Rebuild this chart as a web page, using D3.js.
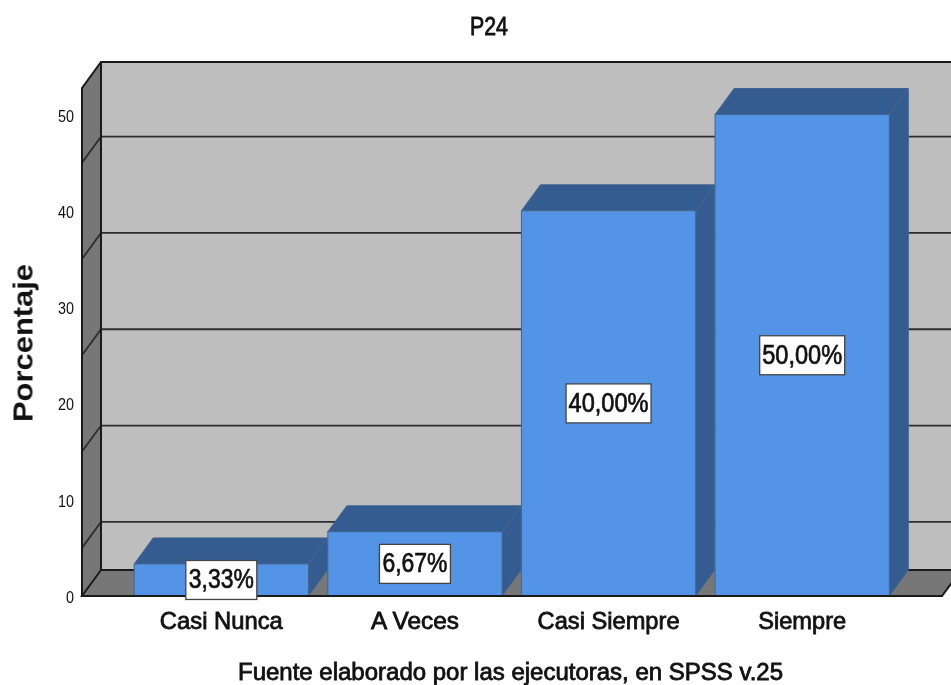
<!DOCTYPE html>
<html><head><meta charset="utf-8">
<script src="https://cdn.jsdelivr.net/npm/d3@7"></script>
<style>html,body{margin:0;padding:0;background:#fff;overflow:hidden}svg{display:block}
text{font-family:"Liberation Sans",Arial,sans-serif;fill:#111;filter:blur(0.35px)}</style></head><body>
<svg id="c" width="951" height="685"></svg>
<script>
const categories=["Casi Nunca","A Veces","Casi Siempre","Siempre"];
const values=[3.33,6.67,40,50];
const valueLabels=["3,33%","6,67%","40,00%","50,00%"];
const yTicks=[0,10,20,30,40,50];
const gridValues=[5,15,25,35,45];
const titleText="P24", yTitle="Porcentaje", footer="Fuente elaborado por las ejecutoras, en SPSS v.25";

const svg=d3.select("#c");
const dx=19,dy=-26,y0=596;
const y=d3.scaleLinear().domain([0,50]).range([y0,114.5]);
const x=d3.scaleBand().domain(categories).range([124.5,899]).paddingInner(0.1).paddingOuter(0.05);
const plotL=82,plotR=942,topV=y.invert(88);
const pts=a=>a.map(p=>p.join(",")).join(" ");
const stroke="#1a1a1a";
const wall="#bebebe",side="#777777",front="#5494e6",dark="#345c90",edge="#44658f";

svg.append("polygon").attr("points",pts([[plotL+dx,y(topV)+dy],[plotR+dx,y(topV)+dy],[plotR+dx,y0+dy],[plotL+dx,y0+dy]])).attr("fill",wall);
svg.append("polygon").attr("points",pts([[plotL,y(topV)],[plotL+dx,y(topV)+dy],[plotL+dx,y0+dy],[plotL,y0]])).attr("fill",side);
svg.append("polygon").attr("points",pts([[plotL,y0],[plotL+dx,y0+dy],[plotR+dx,y0+dy],[plotR,y0]])).attr("fill",side);
const g=svg.append("g").attr("fill","none").attr("stroke","#2e2e2e").attr("stroke-width",1.8);
gridValues.forEach(v=>{
  g.append("polyline").attr("points",pts([[plotL,y(v)],[plotL+dx,y(v)+dy],[plotR+dx,y(v)+dy]]));
});
const o=svg.append("g").attr("fill","none").attr("stroke",stroke).attr("stroke-width",2);
o.append("polyline").attr("points",pts([[plotL,y0],[plotL,y(topV)],[plotL+dx,y(topV)+dy],[plotR+dx,y(topV)+dy]]));
o.append("polyline").attr("points",pts([[plotL+dx,y(topV)+dy],[plotL+dx,y0+dy],[plotR+dx,y0+dy]]));
o.append("polyline").attr("points",pts([[plotL+dx,y0+dy],[plotL,y0],[plotR,y0],[plotR+dx,y0+dy]]));

const bars=svg.append("g").selectAll("g").data(categories).join("g");
bars.append("polygon").attr("fill",dark).attr("stroke",edge).attr("stroke-width",1)
  .attr("points",(d,i)=>{const a=x(d),b=a+x.bandwidth(),t=y(values[i]);return pts([[b,t],[b+dx,t+dy],[b+dx,y0+dy],[b,y0]]);});
bars.append("polygon").attr("fill",dark).attr("stroke",edge).attr("stroke-width",1)
  .attr("points",(d,i)=>{const a=x(d),b=a+x.bandwidth(),t=y(values[i]);return pts([[a,t],[a+dx,t+dy],[b+dx,t+dy],[b,t]]);});
bars.append("rect").attr("fill",front).attr("stroke",edge).attr("stroke-width",1)
  .attr("x",d=>x(d)).attr("width",x.bandwidth())
  .attr("y",(d,i)=>y(values[i])).attr("height",(d,i)=>y0-y(values[i]));
svg.append("line").attr("x1",plotL).attr("x2",plotR).attr("y1",y0).attr("y2",y0).attr("stroke",stroke).attr("stroke-width",2);

const lab=svg.append("g").selectAll("g").data(categories).join("g")
  .attr("transform",(d,i)=>`translate(${x(d)+x.bandwidth()/2},${y(values[i]/2)})`);
lab.append("rect").attr("x",(d,i)=>i<2?-35.5:-42.5).attr("width",(d,i)=>i<2?71:85).attr("y",-19.5).attr("height",39)
  .attr("fill","#fff").attr("stroke","#444").attr("stroke-width",1.3);
lab.append("text").attr("text-anchor","middle").attr("y",8.5).attr("font-size",27)
  .attr("textLength",(d,i)=>i<2?65:80).attr("lengthAdjust","spacingAndGlyphs")
  .attr("stroke","#111").attr("stroke-width",0.7).text((d,i)=>valueLabels[i]);

const ay=svg.append("g").attr("transform",`translate(${plotL},0)`)
  .call(d3.axisLeft(y).tickValues(yTicks).tickSize(0).tickPadding(8));
ay.select(".domain").remove();
ay.selectAll("text").attr("font-size",16.5).attr("dy","6.5px").style("font-family",'"Liberation Sans"').attr("fill","#333")
  .attr("textLength",(d)=>d===0?8:16).attr("lengthAdjust","spacingAndGlyphs");
const ax=svg.append("g").attr("transform",`translate(0,${y0})`)
  .call(d3.axisBottom(x).tickSize(0).tickPadding(0));
ax.select(".domain").remove();
ax.selectAll("text").attr("dy",33).attr("font-size",24).style("font-family",'"Liberation Sans"').attr("fill","#111")
  .attr("stroke","#111").attr("stroke-width",0.8)
  .each(function(d,i){d3.select(this).attr("textLength",[123,88,142,88][i]).attr("lengthAdjust","spacingAndGlyphs");});

svg.append("text").attr("x",489).attr("y",34.5).attr("text-anchor","middle").attr("font-size",25)
  .attr("textLength",38).attr("lengthAdjust","spacingAndGlyphs").attr("stroke","#111").attr("stroke-width",0.8).text(titleText);
svg.append("text").attr("transform","translate(32.5,343) rotate(-90)").attr("text-anchor","middle")
  .attr("font-size",28).attr("font-weight","bold").attr("textLength",158).attr("lengthAdjust","spacingAndGlyphs").text(yTitle);
svg.append("text").attr("x",510.5).attr("y",679.5).attr("text-anchor","middle").attr("font-size",23.5)
  .attr("textLength",545).attr("lengthAdjust","spacingAndGlyphs").attr("stroke","#111").attr("stroke-width",0.8).text(footer);
</script></body></html>
